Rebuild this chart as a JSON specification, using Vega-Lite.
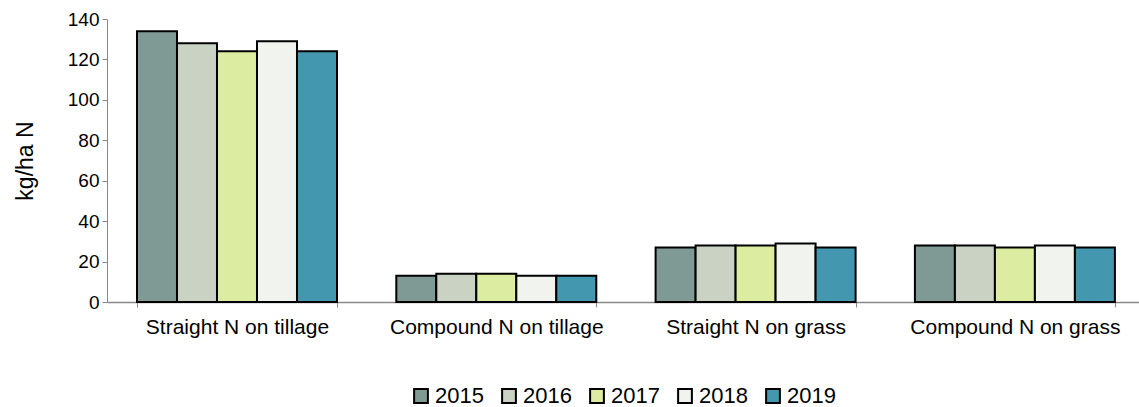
{
  "$schema": "https://vega.github.io/schema/vega-lite/v6.json",
  "width": 1032,
  "height": 283,
  "autosize": {"type": "none"},
  "padding": {"left": 107, "top": 19, "right": 0, "bottom": 105},
  "background": "white",
  "config": {
    "view": {"stroke": null},
    "font": "Liberation Sans",
    "axis": {"grid": false, "domainColor": "#888888", "tickColor": "#888888", "labelColor": "#000000", "titleColor": "#000000", "labelFont": "Liberation Sans", "titleFont": "Liberation Sans", "titleFontWeight": "normal"}
  },
  "data": {
    "values": [
      {"category": "Straight N on tillage", "year": "2015", "value": 134},
      {"category": "Straight N on tillage", "year": "2016", "value": 128},
      {"category": "Straight N on tillage", "year": "2017", "value": 124},
      {"category": "Straight N on tillage", "year": "2018", "value": 129},
      {"category": "Straight N on tillage", "year": "2019", "value": 124},
      {"category": "Compound N on tillage", "year": "2015", "value": 13},
      {"category": "Compound N on tillage", "year": "2016", "value": 14},
      {"category": "Compound N on tillage", "year": "2017", "value": 14},
      {"category": "Compound N on tillage", "year": "2018", "value": 13},
      {"category": "Compound N on tillage", "year": "2019", "value": 13},
      {"category": "Straight N on grass", "year": "2015", "value": 27},
      {"category": "Straight N on grass", "year": "2016", "value": 28},
      {"category": "Straight N on grass", "year": "2017", "value": 28},
      {"category": "Straight N on grass", "year": "2018", "value": 29},
      {"category": "Straight N on grass", "year": "2019", "value": 27},
      {"category": "Compound N on grass", "year": "2015", "value": 28},
      {"category": "Compound N on grass", "year": "2016", "value": 28},
      {"category": "Compound N on grass", "year": "2017", "value": 27},
      {"category": "Compound N on grass", "year": "2018", "value": 28},
      {"category": "Compound N on grass", "year": "2019", "value": 27}
    ]
  },
  "mark": {"type": "bar", "stroke": "#000000", "strokeWidth": 2},
  "encoding": {
    "x": {
      "field": "category",
      "type": "nominal",
      "sort": ["Straight N on tillage", "Compound N on tillage", "Straight N on grass", "Compound N on grass"],
      "scale": {"paddingInner": 0.2287, "paddingOuter": 0.1043, "align": 0.5545},
      "axis": {"title": null, "labelAngle": 0, "labelFontSize": 21, "labelLimit": 400, "tickBand": "extent", "tickSize": 5, "labelPadding": 9, "domainWidth": 1.5}
    },
    "xOffset": {
      "field": "year",
      "type": "nominal",
      "scale": {"paddingInner": 0, "paddingOuter": 0}
    },
    "y": {
      "field": "value",
      "type": "quantitative",
      "scale": {"domain": [0, 140], "nice": false},
      "axis": {"title": "kg/ha N", "values": [0, 20, 40, 60, 80, 100, 120, 140], "labelFontSize": 19, "titleFontSize": 23, "tickSize": 5, "labelPadding": 3, "titlePadding": 30, "domainWidth": 1}
    },
    "color": {
      "field": "year",
      "type": "nominal",
      "scale": {"domain": ["2015", "2016", "2017", "2018", "2019"], "range": ["#7F9A94", "#CAD3C3", "#DCEDA1", "#F1F3EF", "#4398B0"]},
      "legend": {
        "title": null,
        "orient": "none",
        "legendX": 303,
        "legendY": 366,
        "direction": "horizontal",
        "symbolType": "square",
        "symbolSize": 190,
        "symbolStrokeColor": "#000000",
        "symbolStrokeWidth": 2,
        "labelFontSize": 22,
        "labelFont": "Liberation Sans",
        "labelColor": "#000000",
        "labelOffset": 3,
        "columnPadding": 14
      }
    }
  }
}
